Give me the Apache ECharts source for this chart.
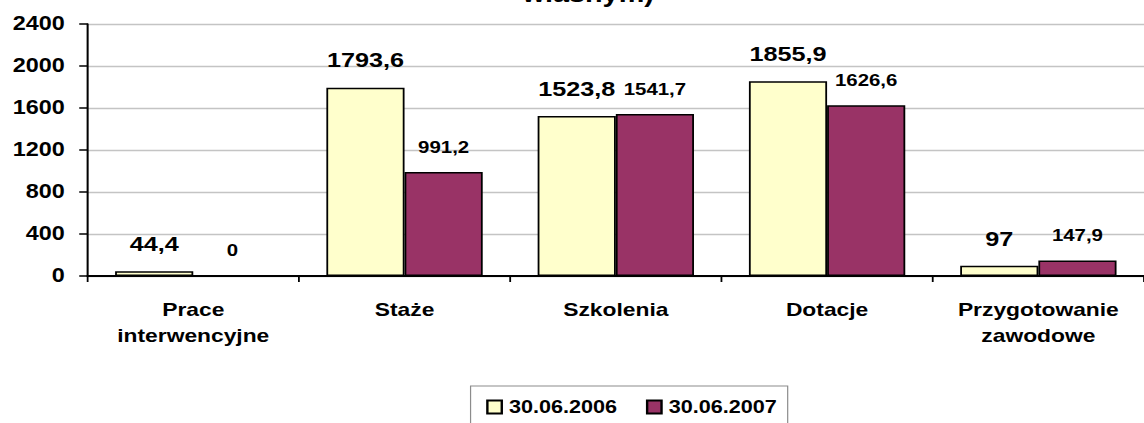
<!DOCTYPE html>
<html>
<head>
<meta charset="utf-8">
<script src="https://cdn.jsdelivr.net/npm/echarts@6/dist/echarts.min.js"></script>
<style>
  html, body { margin: 0; padding: 0; background: #fff; }
  #wrap { width: 1144px; height: 423px; overflow: hidden; position: relative; }
  /* the chart is laid out narrower and widened horizontally, like the original wide export */
  #chart { width: 953px; height: 423px; transform: scaleX(1.20042); transform-origin: 0 0; }
</style>
</head>
<body>
<div id="wrap"><div id="chart"></div></div>
<script>
// Data
const categories = ['Prace\ninterwencyjne', 'Staże', 'Szkolenia', 'Dotacje', 'Przygotowanie\nzawodowe'];
const seriesNames = ['30.06.2006', '30.06.2007'];
const values2006 = [44.4, 1793.6, 1523.8, 1855.9, 97];
const values2007 = [0, 991.2, 1541.7, 1626.6, 147.9];
const yTicks = { min: 0, max: 2400, interval: 400 };
const titleTail = 'własnym)';

const FONT = '"Liberation Sans", Arial, sans-serif';
const fmt = p => String(p.value).replace('.', ',');

const chart = echarts.init(document.getElementById('chart'), null, { renderer: 'svg' });

chart.setOption({
  animation: false,
  backgroundColor: '#ffffff',
  textStyle: { fontFamily: FONT },
  graphic: [{
    type: 'text',
    x: 490,
    y: 6,
    style: {
      text: titleTail,
      font: 'bold 24px ' + FONT,
      fill: '#000',
      textAlign: 'center',
      textVerticalAlign: 'bottom'
    }
  }],
  grid: { left: 73, top: 24, width: 891, height: 252, containLabel: false },
  legend: {
    data: seriesNames,
    icon: 'rect',
    left: 392,
    top: 386,
    orient: 'horizontal',
    itemWidth: 12,
    itemHeight: 13,
    itemGap: 24,
    padding: [12, 9, 14, 13],
    borderColor: '#8c8c8c',
    borderWidth: 1,
    selectedMode: false,
    textStyle: { fontFamily: FONT, fontSize: 18, fontWeight: 'bold', color: '#000', padding: [0, 0, 0, 1] }
  },
  xAxis: {
    type: 'category',
    data: categories,
    boundaryGap: true,
    axisLine: { lineStyle: { color: '#000', width: 2 } },
    axisTick: { show: true, length: 6, lineStyle: { color: '#000', width: 1.5 } },
    axisLabel: {
      interval: 0,
      margin: 20,
      fontFamily: FONT,
      fontSize: 19,
      fontWeight: 'bold',
      color: '#000',
      lineHeight: 26
    },
    splitLine: { show: false }
  },
  yAxis: {
    type: 'value',
    min: yTicks.min,
    max: yTicks.max,
    interval: yTicks.interval,
    axisLine: { show: true, lineStyle: { color: '#000', width: 1.7 } },
    axisTick: { show: true, length: 7, lineStyle: { color: '#000', width: 1.5 } },
    axisLabel: {
      margin: 19,
      formatter: v => String(v),
      fontFamily: FONT,
      fontSize: 19.5,
      fontWeight: 'bold',
      color: '#000'
    },
    splitLine: { show: true, lineStyle: { color: '#c4c4c4', width: 1.3 } }
  },
  series: [
    {
      name: seriesNames[0],
      type: 'bar',
      data: values2006,
      barGap: '0%',
      barCategoryGap: '26%',
      itemStyle: { color: '#FFFFCC', borderColor: '#000', borderWidth: 1.5 },
      label: {
        show: true,
        position: 'top',
        distance: 17,
        formatter: fmt,
        fontFamily: FONT,
        fontSize: 21,
        fontWeight: 'bold',
        color: '#000'
      }
    },
    {
      name: seriesNames[1],
      type: 'bar',
      data: values2007,
      barGap: '0%',
      barCategoryGap: '26%',
      itemStyle: { color: '#993366', borderColor: '#000', borderWidth: 1.5 },
      label: {
        show: true,
        position: 'top',
        distance: 16.5,
        formatter: fmt,
        fontFamily: FONT,
        fontSize: 17,
        fontWeight: 'bold',
        color: '#000'
      }
    }
  ]
});
</script>
</body>
</html>
